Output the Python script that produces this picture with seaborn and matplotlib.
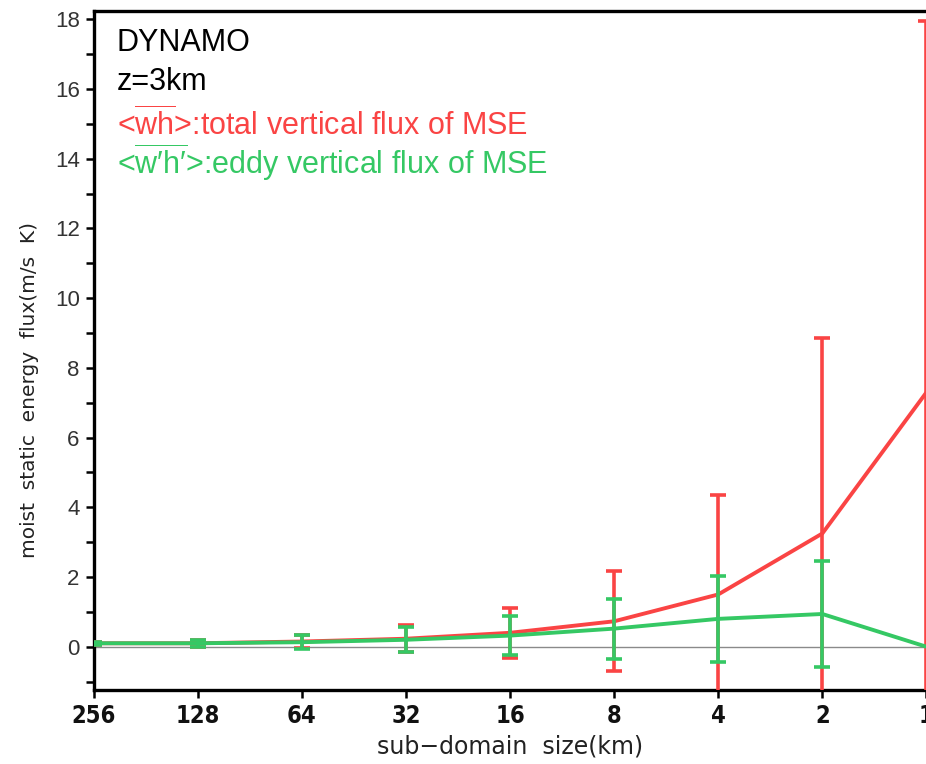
import matplotlib
matplotlib.use("Agg")
import matplotlib.pyplot as plt
import seaborn as sns
import numpy as np
import pandas as pd
from matplotlib.ticker import MultipleLocator
from matplotlib import font_manager

sizes = ["256", "128", "64", "32", "16", "8", "4", "2", "1"]
total_flux = [0.10, 0.10, 0.15, 0.23, 0.40, 0.73, 1.50, 3.25, 7.30]
total_err = [0.05, 0.10, 0.20, 0.38, 0.71, 1.43, 2.85, 5.60, 10.65]
eddy_flux = [0.10, 0.10, 0.13, 0.20, 0.32, 0.52, 0.80, 0.94, 0.00]
eddy_err = [0.05, 0.10, 0.20, 0.36, 0.56, 0.86, 1.24, 1.52, 0.00]

RED = "#fa4444"
GREEN = "#35c864"

sns.set_theme(style="white")
plt.rcParams["font.family"] = ["Liberation Sans", "DejaVu Sans"]
plt.rcParams["mathtext.fontset"] = "custom"
plt.rcParams["mathtext.rm"] = "Liberation Sans"
plt.rcParams["mathtext.it"] = "Liberation Sans"

df = pd.DataFrame({
    "idx": np.arange(len(sizes)),
    "total": total_flux,
    "eddy": eddy_flux,
})

fig = plt.figure(figsize=(9.26, 7.64), dpi=100)
ax = fig.add_axes([0.101, 0.0969, 0.8995, 0.8887])

ax.axhline(0, color="#8a8a8a", lw=1.0, zorder=1)

sns.lineplot(data=df, x="idx", y="total", color=RED, lw=2.8, ax=ax, zorder=3)
ax.errorbar(df["idx"], df["total"], yerr=total_err, fmt="none", ecolor=RED,
            elinewidth=2.6, capsize=5.5, capthick=2.6, zorder=3)
sns.lineplot(data=df, x="idx", y="eddy", color=GREEN, lw=2.8, ax=ax, zorder=4)
ax.errorbar(df["idx"][:-1], df["eddy"][:-1], yerr=eddy_err[:-1], fmt="none", ecolor=GREEN,
            elinewidth=2.6, capsize=5.5, capthick=2.6, zorder=4)

ax.set_xlim(0, 8)
ax.set_ylim(-1.24, 18.24)
ax.set_xticks(np.arange(len(sizes)))
ax.set_xticklabels(sizes)
ax.yaxis.set_major_locator(MultipleLocator(2))
ax.yaxis.set_minor_locator(MultipleLocator(1))
ax.tick_params(axis="both", which="both", direction="out", length=6, width=1.8,
               color="black", left=True, bottom=True)
ax.tick_params(axis="x", which="major", labelsize=17, pad=4)
ax.tick_params(axis="y", which="major", labelsize=16, pad=4)
for lab in ax.get_xticklabels():
    lab.set_family("DejaVu Sans")
    lab.set_fontstretch("condensed")
    lab.set_fontweight("bold")
    lab.set_color("#111111")
for lab in ax.get_yticklabels():
    lab.set_family("Liberation Sans")
    lab.set_color("#333333")

for side in ["left", "bottom", "top"]:
    ax.spines[side].set_visible(True)
    ax.spines[side].set_color("black")
    ax.spines[side].set_linewidth(2.4)
ax.spines["right"].set_visible(False)

ax.set_xlabel("sub\u2212domain  size(km)", fontsize=17, family="DejaVu Sans", color="#222222")
ax.xaxis.set_label_coords(0.5, -0.066)
ax.set_ylabel("moist  static  energy  flux(m/s  K)", fontsize=14.5, family="DejaVu Sans", color="#222222")
ax.yaxis.set_label_coords(-0.066, 0.442)

tx = 0.028
fs = 22
ax.text(tx, 0.953, "DYNAMO", transform=ax.transAxes, fontsize=fs, color="black", va="center")
ax.text(tx, 0.896, "z=3km", transform=ax.transAxes, fontsize=fs, color="black", va="center")
ax.text(tx, 0.832, r"<$\overline{\mathrm{wh}}$>:total vertical flux of MSE", transform=ax.transAxes,
        fontsize=fs, color=RED, va="center")
ax.text(tx, 0.777, "<$\\overline{\\mathrm{w\u2032h\u2032}}$>:eddy vertical flux of MSE", transform=ax.transAxes,
        fontsize=fs, color=GREEN, va="center")

fig.savefig("out.png", dpi=100)
